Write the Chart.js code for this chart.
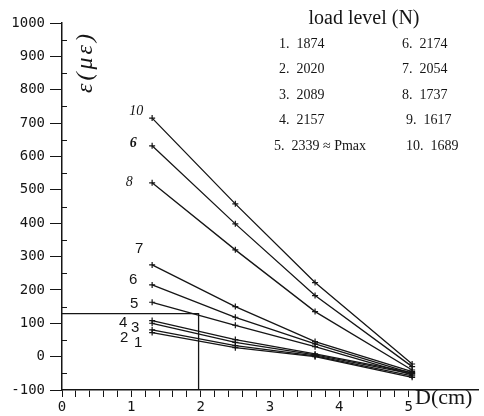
<!DOCTYPE html>
<html>
<head>
<meta charset="utf-8">
<script src="https://cdn.jsdelivr.net/npm/chart.js@4/dist/chart.umd.min.js"></script>
<style>
  html, body { margin: 0; padding: 0; background: #fff; }
  #wrap { width: 484px; height: 416px; }
</style>
</head>
<body>
<div id="wrap"><canvas id="strainChart"></canvas></div>
<script>
// 测点位置 D (cm)
const distances = [1.3, 2.5, 3.65, 5.05];

// 各级荷载下的应变 (με)，按图中从上到下的顺序
const line10 = [715, 458, 222, -22];
const line6a = [632, 398, 183, -30];
const line8  = [521, 320, 135, -40];
const line7  = [275, 150, 45, -45];
const line6b = [215, 118, 38, -50];
const line5  = [163, 94, 30, -55];
const line4  = [108, 51, 8, -48];
const line3  = [100, 43, 5, -52];
const line2  = [80, 33, 2, -58];
const line1  = [72, 27, 0, -62];

const seriesValues = [line10, line6a, line8, line7, line6b, line5, line4, line3, line2, line1];
const seriesLabels = ['10', '6', '8', '7', '6', '5', '4', '3', '2', '1'];

// 辅助线 (x=1.97, y=129)
const refX = 1.97;
const refY = 129;

// 图例: 荷载等级
const loadNumbers = ['1.', '2.', '3.', '4.', '5.', '6.', '7.', '8.', '9.', '10.'];
const loadValues = ['1874', '2020', '2089', '2157', '2339 ≈ Pmax', '2174', '2054', '1737', '1617', '1689'];

// 坐标轴刻度
const yMin = -100, yMax = 1000, yStep = 100;
const xMin = 0, xMax = 6, xTickLast = 5, xMinorStep = 0.2;

document.addEventListener('DOMContentLoaded', function() {
    const ink = '#151515';

    const datasets = seriesValues.map(function(vals, i) {
        return {
            label: seriesLabels[i],
            data: vals.map(function(v, j) { return { x: distances[j], y: v }; }),
            borderColor: ink,
            borderWidth: 1.3,
            pointStyle: 'cross',
            pointRadius: 3,
            pointBorderWidth: 1.2,
            pointBorderColor: ink,
            tension: 0
        };
    });

    // 左下角的参考框
    datasets.push({
        label: 'ref',
        data: [{ x: xMin, y: refY }, { x: refX, y: refY }, { x: refX, y: yMin }],
        borderColor: ink,
        borderWidth: 1.3,
        pointRadius: 0,
        tension: 0
    });

    // 标签相对第一个点的偏移 (像素)
    const labelOffsets = [[-16, -7], [-19, -2], [-23, 0], [-13, -16], [-19, -5], [-18, 2], [-29, 2], [-17, 5], [-28, 8], [-14, 10]];

    const annotate = {
        id: 'annotate',
        afterDraw: function(chart) {
            const ctx = chart.ctx;
            const xs = chart.scales.x;
            const ys = chart.scales.y;
            ctx.save();

            // y 轴次刻度 (朝内)
            ctx.strokeStyle = ink;
            ctx.lineWidth = 1;
            for (let v = yMin + yStep / 2; v < yMax; v += yStep) {
                const py = Math.round(ys.getPixelForValue(v)) + 0.5;
                ctx.beginPath();
                ctx.moveTo(xs.left, py);
                ctx.lineTo(xs.left + 5, py);
                ctx.stroke();
            }

            // 曲线编号
            ctx.fillStyle = ink;
            ctx.textAlign = 'center';
            ctx.textBaseline = 'middle';
            seriesLabels.forEach(function(lab, i) {
                const px = xs.getPixelForValue(distances[0]) + labelOffsets[i][0];
                const py = ys.getPixelForValue(seriesValues[i][0]) + labelOffsets[i][1];
                ctx.font = i < 3 ? (i === 1 ? 'italic bold 14px "Liberation Serif"' : 'italic 14px "Liberation Serif"') : '15px "Liberation Sans"';
                ctx.fillText(lab, px, py);
            });

            // 图例
            ctx.font = '20px "Liberation Serif"';
            ctx.textAlign = 'center';
            ctx.fillText('load level (N)', 364, 19);
            ctx.font = '14px "Liberation Serif"';
            ctx.textAlign = 'left';
            for (let i = 0; i < 5; i++) {
                const y = 44 + i * 25.5;
                const x1 = i === 4 ? 274 : 279;
                ctx.fillText(loadNumbers[i] + '  ' + loadValues[i], x1, y);
                const x2 = i >= 3 ? 406 : 402;
                ctx.fillText(loadNumbers[i + 5] + '  ' + loadValues[i + 5], x2, y);
            }

            // x 轴标题
            ctx.font = '22px "Liberation Serif"';
            ctx.textAlign = 'left';
            ctx.fillText('D(cm)', 415, 398);

            // y 轴标题 (旋转)
            ctx.translate(86, 62);
            ctx.rotate(-Math.PI / 2);
            ctx.font = 'italic 24px "Liberation Serif"';
            ctx.textAlign = 'center';
            ctx.letterSpacing = '3px';
            ctx.fillText('ε(με)', 0, 0);
            ctx.restore();
        }
    };

    const tickFont = { family: '"DejaVu Sans Mono"', size: 14 };

    const ctx = document.getElementById('strainChart').getContext('2d');
    new Chart(ctx, {
        type: 'line',
        data: { datasets: datasets },
        options: {
            responsive: true,
            maintainAspectRatio: false,
            animation: false,
            layout: { padding: { top: 23, right: 6, left: 0, bottom: 0 } },
            plugins: {
                legend: { display: false },
                tooltip: { enabled: false }
            },
            scales: {
                x: {
                    type: 'linear',
                    min: xMin,
                    max: xMax,
                    afterBuildTicks: function(scale) {
                        const ticks = [];
                        for (let k = 0; k <= Math.round(xTickLast / xMinorStep); k++) {
                            ticks.push({ value: Math.round(k * xMinorStep * 10) / 10 });
                        }
                        scale.ticks = ticks;
                    },
                    afterFit: function(scale) { scale.height = 26; },
                    border: { display: true, color: ink, width: 1.5 },
                    grid: { drawOnChartArea: false, color: ink, tickLength: 7, tickWidth: 1 },
                    ticks: {
                        autoSkip: false,
                        maxRotation: 0,
                        padding: 2,
                        color: ink,
                        font: tickFont,
                        callback: function(value) {
                            return Number.isInteger(value) ? String(value) : '';
                        }
                    }
                },
                y: {
                    min: yMin,
                    max: yMax,
                    afterFit: function(scale) { scale.width = 62; },
                    border: { display: true, color: ink, width: 1.5 },
                    grid: { drawOnChartArea: false, color: ink, tickLength: 12, tickWidth: 1 },
                    ticks: {
                        stepSize: yStep,
                        padding: 5,
                        color: ink,
                        font: tickFont,
                        callback: function(value) {
                            return String(value);
                        }
                    }
                }
            }
        },
        plugins: [annotate]
    });
});
</script>
</body>
</html>
